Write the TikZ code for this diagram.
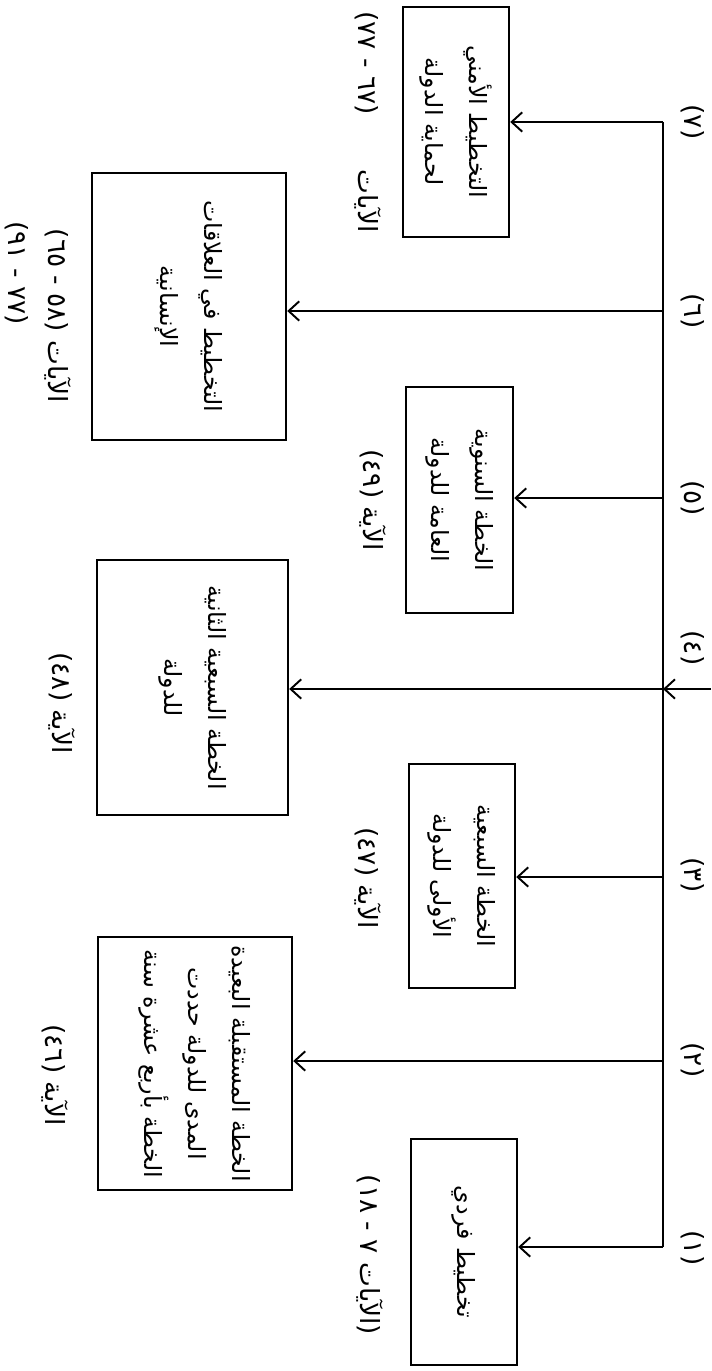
\documentclass[tikz,border=0pt]{standalone}
\usepackage{fontspec}
\TeXXeTstate=1
\newfontfamily\ar[Script=Arabic]{DejaVu Sans}
\newfontfamily\arnum{DejaVu Sans}
\usetikzlibrary{arrows.meta}
\begin{document}
\begin{tikzpicture}[x=0.02cm,y=-0.02cm,
  line/.style={line width=1.1pt},
  arr/.style={line width=1.1pt,-{Straight Barb[length=6pt,width=11pt,line width=1.1pt]}},
  box/.style={draw,line width=1.4pt,rotate=-90,inner sep=0pt,align=center,
    font=\ar\fontsize{13.5}{25}\selectfont},
  lab/.style={rotate=-90,inner sep=0pt,font=\ar\fontsize{15}{16}\selectfont}]
\useasboundingbox (0,0) rectangle (711,1371);
% boxes
\node[box,minimum width=4.6cm,minimum height=2.12cm] (B7) at (456,122)
  {\beginR التخطيط الأمني\endR\\\beginR لحماية الدولة\endR};
\node[box,minimum width=5.34cm,minimum height=3.88cm] (B6) at (189,306.5)
  {\beginR التخطيط في العلاقات\endR\\\beginR الإنسانية\endR};
\node[box,minimum width=4.52cm,minimum height=2.14cm] (B5) at (459.5,500)
  {\beginR الخطة السنوية\endR\\\beginR العامة للدولة\endR};
\node[box,minimum width=5.1cm,minimum height=3.82cm] (B4) at (192.5,687.5)
  {\beginR الخطة السبعية الثانية\endR\\\beginR للدولة\endR};
\node[box,minimum width=4.48cm,minimum height=2.12cm] (B3) at (462,876)
  {\beginR الخطة السبعية\endR\\\beginR الأولى للدولة\endR};
\node[box,minimum width=5.06cm,minimum height=3.88cm] (B2) at (195,1063.5)
  {\beginR الخطة المستقبلة البعيدة\endR\\\beginR المدى للدولة حددت\endR\\\beginR الخطة بأربع عشرة سنة\endR};
\node[box,minimum width=4.52cm,minimum height=2.12cm] (B1) at (464,1252)
  {\beginR تخطيط فردي\endR};
% bus
\coordinate (J7) at (663,122);
\coordinate (J6) at (663,311);
\coordinate (J5) at (663,498);
\coordinate (J4) at (663,689);
\coordinate (J3) at (663,877);
\coordinate (J2) at (663,1061);
\coordinate (J1) at (663,1247);
\coordinate (S) at (711,689);
\draw[line] (J7) -- (J1);
\draw[arr] (S) -- (J4);
\foreach \i in {1,...,7}{\draw[arr] (J\i) -- (J\i -| B\i.north);}
% bus labels
\node[lab] (N7) at (693,122) {\arnum(٧)};
\node[lab] (N6) at (693,311) {\arnum(٦)};
\node[lab] (N5) at (693,498) {\arnum(٥)};
\node[lab] (N4) at (693,648) {\arnum(٤)};
\node[lab] (N3) at (693,875) {\arnum(٣)};
\node[lab] (N2) at (693,1060) {\arnum(٢)};
\node[lab] (N1) at (693,1248) {\arnum(١)};
% verse labels
\node[lab] (L1) at (370,1255) {\beginR{\arnum)}الآيات \beginL{\arnum ١٨ - ٧}\endL{\arnum(}\endR};
\node[lab] (L2) at (55,1075) {\beginR الآية \beginL{\arnum(٤٦)}\endL\endR};
\node[lab] (L3) at (368,878) {\beginR الآية \beginL{\arnum(٤٧)}\endL\endR};
\node[lab] (L4) at (62,703) {\beginR الآية \beginL{\arnum(٤٨)}\endL\endR};
\node[lab] (L5) at (373,500) {\beginR الآية \beginL{\arnum(٤٩)}\endL\endR};
\node[lab] (L6a) at (58,316) {\beginR الآيات \beginL{\arnum(٦٥ - ٥٨)}\endL\endR};
\node[lab,anchor=west] (L6b) at (17,221) {\beginR\beginL{\arnum(٩١ - ٧٧)}\endL\endR};
\node[lab] (L7) at (368,122) {\beginR الآيات\hspace{1.1cm}\beginL{\arnum(٧٧ - ٦٧)}\endL\endR};
\end{tikzpicture}
\end{document}
